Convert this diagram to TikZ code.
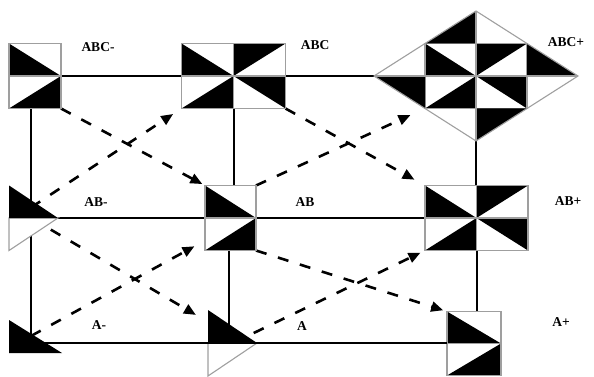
\documentclass[tikz,border=0pt]{standalone}
\usepackage{fontspec}
\setmainfont{Liberation Serif}
\usetikzlibrary{calc,arrows.meta}
\tikzset{
  statebox/.style={rectangle,inner sep=0pt,outer sep=0pt,draw=none},
  conn/.style={line width=2pt,black},
  trans/.style={line width=2.6pt,black,dash pattern=on 11pt off 12pt,
    -{Triangle[length=12pt,width=10pt]}},
  outl/.style={draw=gray!75,line width=1.1pt},
  lbl/.style={font=\fontsize{13.5}{15}\selectfont\bfseries,inner sep=0pt}
}
\newcommand\Lpat[1]{%
  \fill (#1.north west) -- (#1.west) -- (#1.east) -- cycle;
  \fill (#1.south west) -- (#1.south east) -- (#1.east) -- cycle;
  \draw[outl] (#1.north west) rectangle (#1.south east);
  \draw[outl] (#1.west) -- (#1.east);}
\newcommand\Ppat[1]{%
  \fill (#1.north west) -- (#1.west) -- (#1.center) -- cycle;
  \fill (#1.south west) -- (#1.south) -- (#1.center) -- cycle;
  \fill (#1.north) -- (#1.north east) -- (#1.center) -- cycle;
  \fill (#1.center) -- (#1.east) -- (#1.south east) -- cycle;
  \draw[outl] (#1.north west) rectangle (#1.south east);
  \draw[outl] (#1.west) -- (#1.east);
  \draw[outl] (#1.north) -- (#1.south);}
\newcommand\Tpat[1]{%
  \fill[white] (#1.west) -- (#1.east) -- (#1.south west) -- cycle;
  \draw[outl] (#1.west) -- (#1.east) -- (#1.south west) -- cycle;
  \fill (#1.north west) -- (#1.west) -- (#1.east) -- cycle;}
\begin{document}
\begin{tikzpicture}[x=1pt,y=-1pt]
\useasboundingbox (0,0) rectangle (594,377);
% state nodes
\node[statebox,minimum width=52pt,minimum height=65pt] (abcm) at (35,76) {};
\node[statebox,minimum width=104pt,minimum height=65pt] (abc) at (233.5,76) {};
\node[statebox,minimum width=102pt,minimum height=65pt] (abcp) at (476,76) {};
\node[statebox,minimum width=49pt,minimum height=65pt] (abm) at (33.5,218) {};
\node[statebox,minimum width=51pt,minimum height=65pt] (ab) at (230.5,218) {};
\node[statebox,minimum width=103pt,minimum height=65pt] (abp) at (476.5,218) {};
\node[statebox,minimum width=53pt,minimum height=33pt] (am) at (35.5,336.5) {};
\node[statebox,minimum width=49pt,minimum height=66pt] (a) at (232.5,343) {};
\node[statebox,minimum width=54pt,minimum height=64pt] (ap) at (474,343.5) {};
\coordinate (dl) at ($(abcp.west)+(-51,0)$);
\coordinate (dr) at ($(abcp.east)+(51,0)$);
\coordinate (dt) at ($(abcp.north)+(0,-32.5)$);
\coordinate (db) at ($(abcp.south)+(0,32.5)$);
% solid connectors
\draw[conn] (abcm.east) -- (abc.west);
\draw[conn] (abc.east) -- (dl);
\draw[conn] (abm.east) -- (ab.west);
\draw[conn] (ab.east) -- (abp.west);
\draw[conn] ([xshift=-4pt]abcm.south) -- ([xshift=-4pt]abcm.south |- am.center);
\draw[conn] (abc.south) -- (abc.south |- ab.north);
\draw[conn] ([xshift=-2pt]ab.south) -- ([xshift=-2pt]ab.south |- a.center);
\draw[conn] (db) -- (db |- abp.north);
\draw[conn] (abp.south) -- (abp.south |- ap.north);
% dashed transitions
\draw[trans,shorten >=3pt] (abcm.south east) -- (ab.north west);
\draw[trans,shorten >=10pt] ($(abm.north west)+(22,22)$) -- (abc.south west);
\draw[trans,shorten >=16pt] (ab.north east) -- (abcp.south west);
\draw[trans,shorten >=12pt] (abc.south east) -- (abp.north west);
\draw[trans,shorten >=14pt] ($(abm.west)+(22,0)$) -- ($(a.north west)+(0,12)$);
\draw[trans,shorten >=12pt] ($(am.north west)+(22,16)$) -- ($(ab.south west)+(0,-10)$);
\draw[trans,shorten >=5pt] ($(a.west)+(25,0)$) -- (abp.south west);
\draw[trans,shorten >=4pt] (ab.south east) -- (ap.north west);
% state shapes
\Lpat{abcm}
\Ppat{abc}
\Ppat{abcp}
\fill (abcp.north west) -- (dt) -- (abcp.north) -- cycle;
\fill (dl) -- (abcp.west) -- (abcp.south west) -- cycle;
\fill (abcp.north east) -- (dr) -- (abcp.east) -- cycle;
\fill (abcp.south) -- (abcp.south east) -- (db) -- cycle;
\draw[outl] (dl) -- (dt) -- (dr) -- (db) -- cycle;
\draw[outl] (dl) -- (dr);
\draw[outl] (dt) -- (db);
\Tpat{abm}
\Lpat{ab}
\Ppat{abp}
\fill (am.north west) -- (am.south west) -- (am.south east) -- cycle;
\Tpat{a}
\Lpat{ap}
\draw[conn] (a.center -| am.center) -- (a.center -| ap.west);
% labels
\node[lbl] (labcm) at (98,47) {ABC-};
\node[lbl] (labc) at (315,45) {ABC};
\node[lbl] (labcp) at (566,42) {ABC+};
\node[lbl] (labm) at (96,202) {AB-};
\node[lbl] (lab) at (305,202) {AB};
\node[lbl] (labp) at (568,201) {AB+};
\node[lbl] (lam) at (99,325) {A-};
\node[lbl] (la) at (302,326) {A};
\node[lbl] (lap) at (561,322) {A+};
\end{tikzpicture}
\end{document}
